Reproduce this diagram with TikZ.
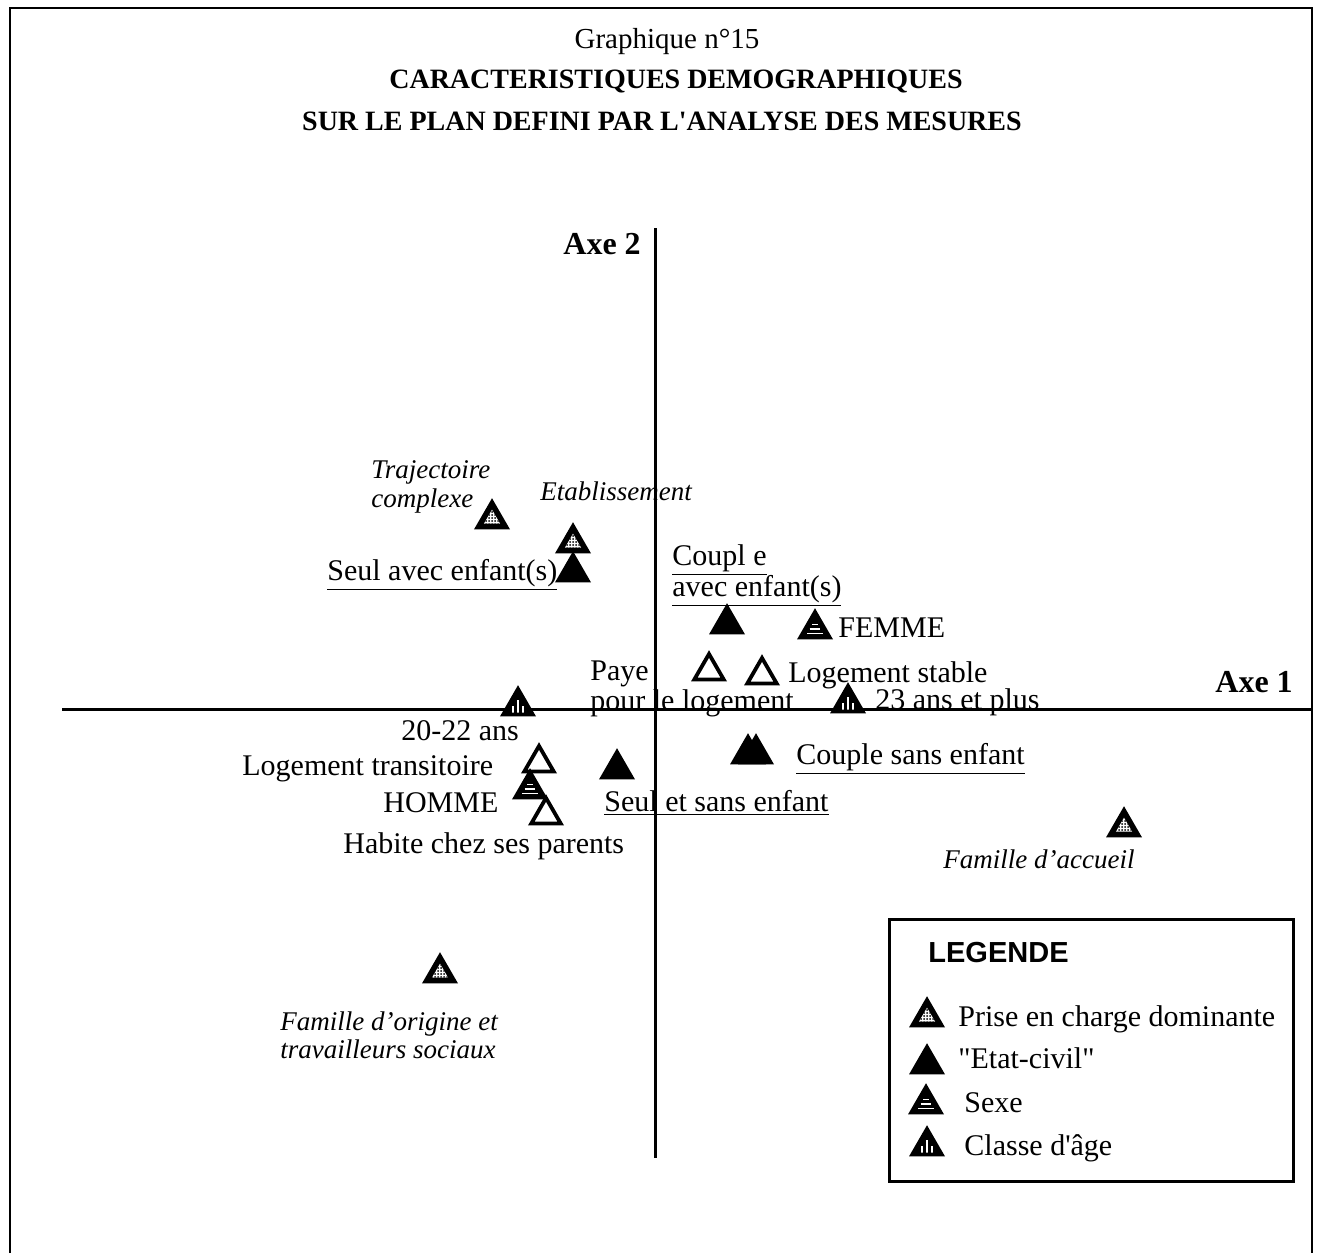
\documentclass[tikz,border=0pt]{standalone}
\usepackage{fontspec}
\setmainfont{Liberation Serif}[Ligatures=TeXOff]
\setsansfont{Liberation Sans}
\usetikzlibrary{shapes.geometric,patterns,calc}
\pgfdeclarepatternformonly{sdots}{\pgfqpoint{-0.6pt}{-0.6pt}}{\pgfqpoint{0.6pt}{0.6pt}}{\pgfqpoint{1.5pt}{1.5pt}}{\pgfpathcircle{\pgfqpoint{0pt}{0pt}}{0.5pt}\pgfusepath{fill}}
\tikzset{
  lab/.style={anchor=base west, inner sep=0pt, font=\fontsize{15}{17}\selectfont},
  itlab/.style={anchor=base west, inner sep=0pt, font=\fontsize{13.5}{16}\selectfont\itshape},
  ttl/.style={anchor=base, inner sep=0pt, font=\fontsize{14.5}{17}\selectfont},
  mk/.style={regular polygon, regular polygon sides=3, minimum size=17pt, inner sep=0pt, outer sep=0pt, draw=black, line width=1.9pt},
  mkopen/.style={mk, fill=white},
  mkfill/.style={mk, fill=black},
  mkdot/.style={mk, fill=black, path picture={
      \coordinate (G) at ($(path picture bounding box.south)!1/3!(path picture bounding box.north)$);
      \fill[white] ($(G)!0.55!(path picture bounding box.south west)$) -- ($(G)!0.55!(path picture bounding box.south east)$) -- ($(G)!0.55!(path picture bounding box.north)$) -- cycle;
      \fill[pattern=sdots] ($(G)!0.55!(path picture bounding box.south west)$) -- ($(G)!0.55!(path picture bounding box.south east)$) -- ($(G)!0.55!(path picture bounding box.north)$) -- cycle;
  }},
  mksex/.style={mk, fill=black, path picture={
      \coordinate (G) at ($(path picture bounding box.south)!1/3!(path picture bounding box.north)$);
      \draw[white, line width=0.8pt] ($(G)+(-3.8pt,-2.3pt)$) -- ($(G)+(3.8pt,-2.3pt)$);
      \draw[white, line width=0.8pt] ($(G)+(-2.7pt,0pt)$) -- ($(G)+(2.7pt,0pt)$);
      \draw[white, line width=0.8pt] ($(G)+(-1.5pt,2.3pt)$) -- ($(G)+(1.5pt,2.3pt)$);
  }},
  mkage/.style={mk, fill=black, path picture={
      \coordinate (G) at ($(path picture bounding box.south)!1/3!(path picture bounding box.north)$);
      \draw[white, line width=0.9pt] ($(G)+(-2.4pt,-3.6pt)$) -- ($(G)+(-2.4pt,-0.2pt)$);
      \draw[white, line width=0.9pt] ($(G)+(0pt,-3.6pt)$) -- ($(G)+(0pt,2.8pt)$);
      \draw[white, line width=0.9pt] ($(G)+(2.4pt,-3.6pt)$) -- ($(G)+(2.4pt,-0.2pt)$);
  }},
}
\begin{document}
\begin{tikzpicture}[x=0.5pt, y=-0.5pt]
\useasboundingbox (0,0) rectangle (1320,1253);
% frame
\draw[line width=0.9pt] (10,1253) -- (10,8) -- (1312,8) -- (1312,1253);
% titles
\node[ttl] (t1) at (667,48) {Graphique n°15};
\node[ttl, font=\fontsize{14}{17}\selectfont\bfseries] (t2) at (676,88) {CARACTERISTIQUES DEMOGRAPHIQUES};
\node[ttl, font=\fontsize{14}{17}\selectfont\bfseries] (t3) at (662,130) {SUR LE PLAN DEFINI PAR L'ANALYSE DES MESURES};
% axis labels
\node[lab, font=\fontsize{16}{18}\selectfont\bfseries] (ax2) at (563,254) {Axe 2};
\node[lab, font=\fontsize{16}{18}\selectfont\bfseries] (ax1) at (1215,692) {Axe 1};
% point labels
\node[itlab] (lTraj) at (371,478) {Trajectoire};
\node[itlab] (lComp) at (371,507) {complexe};
\node[itlab] (lEtab) at (540,500) {Etablissement};
\node[lab] (lSeulAvec) at (327,580) {\underline{Seul avec enfant(s)}};
\node[lab] (lCoupl) at (672,565) {\underline{Coupl e}};
\node[lab] (lAvec) at (672,596) {\underline{avec enfant(s)}};
\node[lab] (lFemme) at (838,637) {FEMME};
\node[lab] (lPaye) at (590,680) {Paye};
\node[lab] (lPour) at (590,710) {pour le logement};
\node[lab] (lStable) at (788,682) {Logement stable};
\node[lab] (l23) at (875,709) {23 ans et plus};
\node[lab] (l2022) at (401,740) {20-22 ans};
\node[lab] (lCoupleSans) at (796,764) {\underline{Couple sans enfant}};
\node[lab] (lTrans) at (242,775) {Logement transitoire};
\node[lab] (lHomme) at (383,812) {HOMME};
\node[lab] (lSeulSans) at (604,811) {\underline{Seul et sans enfant}};
\node[lab] (lHabite) at (343,853) {Habite chez ses parents};
\node[itlab] (lAccueil) at (943,868) {Famille d’accueil};
\node[itlab] (lOrig1) at (280,1030) {Famille d’origine et};
\node[itlab] (lOrig2) at (280,1058) {travailleurs sociaux};
% axes
\coordinate (vtop) at (655,228);
\coordinate (vbot) at (655,1158);
\coordinate (hl) at (62,709);
\coordinate (hr) at (1313,709);
\draw[line width=1.5pt] (vtop) -- (vbot);
\draw[line width=1.5pt] (hl) -- (hr);
% markers
\node[mkdot] (mTraj) at (492,519) {};
\node[mkdot] (mEtab) at (573,543) {};
\node[mkfill] (mSeulAvec) at (573,572) {};
\node[mkfill] (mCoupleAvec) at (727,624) {};
\node[mksex] (mFemme) at (815,629) {};
\node[mkopen] (mPaye) at (709,671) {};
\node[mkopen] (mStable) at (762,675) {};
\node[mkage] (m23) at (848,703) {};
\node[mkage] (m2022) at (518,706) {};
\node[mkfill] (mCoupleSansA) at (748,754) {};
\node[mkfill] (mCoupleSansB) at (756,754) {};
\node[mkfill] (mSeulSans) at (617,769) {};
\node[mkopen] (mTrans) at (539,763) {};
\node[mksex] (mHomme) at (530,789) {};
\node[mkopen] (mHabite) at (546,815) {};
\node[mkdot] (mAccueil) at (1124,827) {};
\node[mkdot] (mOrig) at (440,973) {};
% legend
\node[draw, line width=1.6pt, anchor=north west, minimum width=202pt, minimum height=131pt, inner sep=0pt] (legend) at (888,918) {};
\node[lab, font=\fontsize{14.5}{17}\selectfont\sffamily\bfseries] (lLeg) at (928,962) {LEGENDE};
\node[mkdot] (kPrise) at (927,1017) {};
\node[mkfill] (kEtat) at (927,1064) {};
\node[mksex] (kSexe) at (926,1104) {};
\node[mkage] (kAge) at (927,1146) {};
\node[lab] (tPrise) at (958,1026) {Prise en charge dominante};
\node[lab] (tEtat) at (958,1068) {"Etat-civil"};
\node[lab] (tSexe) at (964,1112) {Sexe};
\node[lab] (tAge) at (964,1155) {Classe d'âge};
\end{tikzpicture}
\end{document}
